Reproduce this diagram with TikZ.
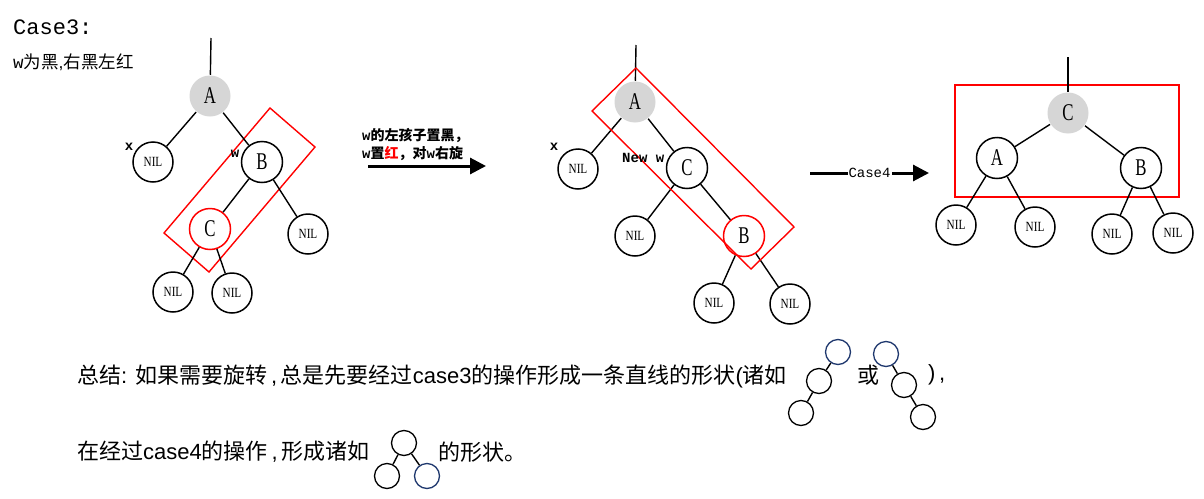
\documentclass[tikz,border=0pt]{standalone}
\usepackage{fontspec}
\usepackage{graphicx}
\setmainfont{Liberation Sans}
\newfontfamily\cjk{Noto Sans CJK SC}
\newfontfamily\mono{Liberation Mono}
\newfontfamily\serifn{Liberation Serif}
\usetikzlibrary{arrows.meta}
\definecolor{nodegray}{RGB}{214,214,214}
\definecolor{navy}{RGB}{31,56,110}
\newcommand\zh[1]{{\cjk #1}}
\newcommand\nl[1]{\scalebox{0.7}[1]{#1}}
\newcommand\nn{\scalebox{0.8}[1]{NIL}}
\tikzset{
 edge/.style={line width=1.4pt},
 nd/.style={circle, minimum size=41pt, inner sep=0pt, line width=1.5pt, font=\serifn\fontsize{24}{24}\selectfont},
 bn/.style={nd, draw=black},
 gn/.style={nd, fill=nodegray},
 rn/.style={nd, draw=red},
 nil/.style={circle, draw, minimum size=40pt, inner sep=0pt, line width=1.5pt, font=\serifn\fontsize{14}{14}\selectfont},
 sm/.style={circle, draw, minimum size=25pt, inner sep=0pt, line width=1.3pt},
 smb/.style={sm, draw=navy},
 rbox/.style={draw=red, line width=1.4pt},
 lbl/.style={font=\mono\bfseries\fontsize{14}{14}\selectfont, inner sep=0pt},
 bigarrow/.style={line width=3pt, -{Triangle[length=16pt,width=16pt]}},
 sumtxt/.style={anchor=west, inner sep=0pt, font=\fontsize{22}{22}\selectfont},
}
\begin{document}
\begin{tikzpicture}[x=1pt,y=-1pt]
\useasboundingbox[fill=white] (0,0) rectangle (1204,498);

% titles
\node[anchor=west, inner sep=0pt, font=\mono\fontsize{22}{22}\selectfont] (title) at (13,27) {Case3:};
\node[anchor=west, inner sep=0pt, font=\fontsize{17.5}{17.5}\selectfont] (sub) at (13,62) {{\mono w}\zh{为黑},\zh{右黑左红}};

% ---------- tree 1 ----------
\draw[rbox] (270,108) -- (315,147) -- (209,272) -- (164,233) -- cycle;
\coordinate (t1) at (211,38);
\node[gn] (A1) at (210,96) {\nl{A}};
\node[nil] (x1) at (153,162) {\nn};
\node[bn] (B1) at (262,162) {\nl{B}};
\node[rn,fill=white] (C1) at (210,229) {\nl{C}};
\node[nil] (n1b) at (308,234) {\nn};
\node[nil] (n1c) at (173,292) {\nn};
\node[nil] (n1d) at (232,293) {\nn};
\draw[edge] (t1) -- (A1);
\draw[edge] (A1) -- (x1);
\draw[edge] (A1) -- (B1);
\draw[edge] (B1) -- (C1);
\draw[edge] (B1) -- (n1b);
\draw[edge] (C1) -- (n1c);
\draw[edge] (C1) -- (n1d);
\node[lbl] (lx1) at (129,147) {x};
\node[lbl] (lw1) at (235,154) {w};

% ---------- arrow 1 ----------
\node[anchor=west, inner sep=0pt, font=\bfseries\fontsize{14}{14}\selectfont] (op1) at (362,136) {{\mono w}\zh{的左孩子置黑，}};
\node[anchor=west, inner sep=0pt, font=\bfseries\fontsize{14}{14}\selectfont] (op2) at (362,154) {{\mono w}\zh{置}\textcolor{red}{\zh{红}}\zh{，对}{\mono w}\zh{右旋}};
\coordinate (a1s) at (368,166);
\coordinate (a1e) at (486,166);
\draw[bigarrow] (a1s) -- (a1e);

% ---------- tree 2 ----------
\coordinate (t2) at (636,45);
\node[gn] (A2) at (635,102) {\nl{A}};
\node[nil] (x2) at (578,169) {\nn};
\node[bn,fill=white] (C2) at (687,168) {\nl{C}};
\node[nil] (n2a) at (635,236) {\nn};
\node[rn] (B2) at (744,236) {\nl{B}};
\node[nil] (n2b) at (714,303) {\nn};
\node[nil] (n2c) at (790,304) {\nn};
\draw[edge] (t2) -- (A2);
\draw[edge] (A2) -- (x2);
\draw[edge] (A2) -- (C2);
\draw[edge] (C2) -- (n2a);
\draw[edge] (C2) -- (B2);
\draw[edge] (B2) -- (n2b);
\draw[edge] (B2) -- (n2c);
\draw[rbox] (636,68) -- (794,227) -- (751,269) -- (592,111) -- cycle;
\node[lbl] (lx2) at (554,147) {x};
\node[lbl, anchor=west] (lw2) at (622,158) {New w};

% ---------- arrow 2 ----------
\coordinate (a2s) at (810,173);
\coordinate (a2e) at (929,173);
\draw[bigarrow] (a2s) -- node[fill=white, inner sep=1pt, font=\mono\fontsize{14}{14}\selectfont] (c4) {Case4} (a2e);

% ---------- tree 3 ----------
\draw[rbox] (955,85) rectangle (1179,197);
\coordinate (t3) at (1068,57);
\node[gn] (C3) at (1068,113) {\nl{C}};
\node[bn] (A3) at (997,158) {\nl{A}};
\node[bn] (B3) at (1141,168) {\nl{B}};
\node[nil] (n3a) at (956,225) {\nn};
\node[nil] (n3b) at (1035,227) {\nn};
\node[nil] (n3c) at (1112,234) {\nn};
\node[nil] (n3d) at (1173,233) {\nn};
\draw[edge] (t3) -- (C3);
\draw[edge] (C3) -- (A3);
\draw[edge] (C3) -- (B3);
\draw[edge] (A3) -- (n3a);
\draw[edge] (A3) -- (n3b);
\draw[edge] (B3) -- (n3c);
\draw[edge] (B3) -- (n3d);

% ---------- summary ----------
\node[sumtxt] (s1) at (77,376) {\zh{总结}: \zh{如果需要旋转}\,,\,\zh{总是先要经过}case3\zh{的操作形成一条直线的形状}(\zh{诸如}};
\node[sumtxt] (s1b) at (857,375) {\zh{或}};
\node[sumtxt] (s1c) at (928,375) {)\,,};
\node[sumtxt] (s2) at (77,452) {\zh{在经过}case4\zh{的操作}\,,\,\zh{形成诸如}};
\node[sumtxt] (s2b) at (438,452) {\zh{的形状。}};

% small trees
\node[smb] (pa1) at (838,352) {};
\node[sm] (pa2) at (819,381) {};
\node[sm] (pa3) at (801,413) {};
\draw[edge] (pa1) -- (pa2);
\draw[edge] (pa2) -- (pa3);
\node[smb] (pb1) at (886,354) {};
\node[sm] (pb2) at (904,385) {};
\node[sm] (pb3) at (923,417) {};
\draw[edge] (pb1) -- (pb2);
\draw[edge] (pb2) -- (pb3);
\node[sm] (pc1) at (404,443) {};
\node[sm] (pc2) at (387,476) {};
\node[smb] (pc3) at (427,476) {};
\draw[edge] (pc1) -- (pc2);
\draw[edge] (pc1) -- (pc3);
\end{tikzpicture}
\end{document}
